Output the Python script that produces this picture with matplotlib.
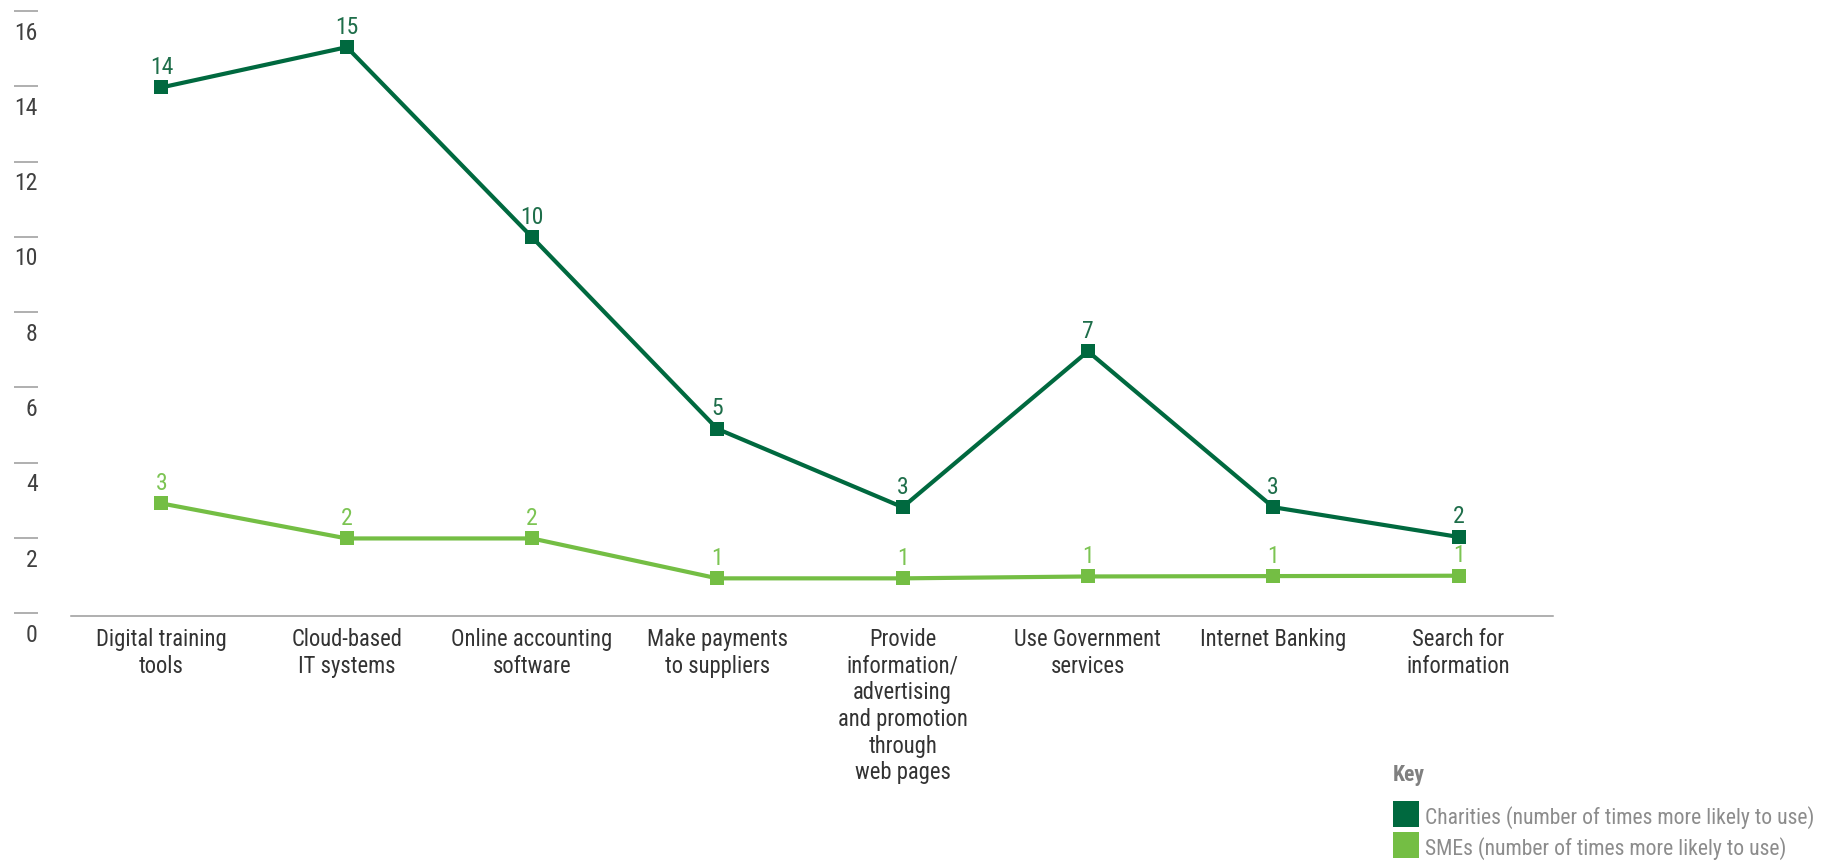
import matplotlib
matplotlib.use('Agg')
import matplotlib.pyplot as plt
from matplotlib import font_manager
from matplotlib.lines import Line2D
from matplotlib.transforms import blended_transform_factory, ScaledTranslation

categorias = ['Digital training\ntools', 'Cloud-based\nIT systems',
              'Online accounting\nsoftware', 'Make payments\nto suppliers',
              'Provide\ninformation/\nadvertising\nand promotion\nthrough\nweb pages',
              'Use Government\nservices', 'Internet Banking',
              'Search for\ninformation']
charities = [13.97, 15.04, 9.99, 4.9, 2.82, 6.96, 2.82, 2.03]
smes = [2.92, 1.99, 1.99, 0.93, 0.93, 0.98, 0.99, 1.0]
charities_rotulos = ['14', '15', '10', '5', '3', '7', '3', '2']
smes_rotulos = ['3', '2', '2', '1', '1', '1', '1', '1']
y_ticks = [0, 2, 4, 6, 8, 10, 12, 14, 16]

cor_charities = '#00693F'
cor_smes = '#74BE44'

# fonte estreita, se houver
instaladas = {f.name for f in font_manager.fontManager.ttflist}
fonte = 'DejaVu Sans'
for nome in ['Liberation Sans Narrow', 'Roboto Condensed', 'DejaVu Sans Condensed',
             'Open Sans Condensed', 'Roboto', 'Lato']:
    if nome in instaladas:
        fonte = nome
        break
plt.rcParams['font.family'] = [fonte, 'DejaVu Sans']

fig = plt.figure(figsize=(18.36, 8.62), dpi=100)

# ajusta o tamanho da fonte pela largura de "Internet Banking" (~146 px)
renderer = fig.canvas.get_renderer()
teste = fig.text(0, 0, 'Internet Banking', fontsize=16)
largura = teste.get_window_extent(renderer).width
teste.remove()
tam = min(16.5, 16 * 146 / largura)

ax = fig.add_axes([70.7 / 1836, 245 / 862, 1482.3 / 1836, 605 / 862])

x = list(range(len(categorias)))
ax.plot(x, charities, color=cor_charities, lw=3.0, marker='s', ms=10.5,
        mew=0, clip_on=False, zorder=3)
ax.plot(x, smes, color=cor_smes, lw=3.0, marker='s', ms=10.5,
        mew=0, clip_on=False, zorder=3)

for xi, v, r in zip(x, charities, charities_rotulos):
    ax.annotate(r, (xi, v), xytext=(0, 10.5), textcoords='offset points',
                ha='center', va='baseline', fontsize=tam * 1.05, color='#1E6E4A')
for xi, v, r in zip(x, smes, smes_rotulos):
    ax.annotate(r, (xi, v), xytext=(0, 10.5), textcoords='offset points',
                ha='center', va='baseline', fontsize=tam * 1.05, color='#7CC453')

ax.set_xlim(-0.49, 7.51)
ax.set_ylim(-0.07, 16)

# eixo x
ax.set_xticks(x)
ax.set_xticklabels(categorias, fontsize=tam, color='#333333', linespacing=1.2,
                   va='top')
ax.tick_params(axis='x', length=0, pad=8)

# eixo y: tracinhos a esquerda, rotulos abaixo deles
ax.spines['left'].set_position(('outward', 23.5))
ax.spines['left'].set_color('none')
ax.set_yticks(y_ticks)
ax.tick_params(axis='y', direction='out', length=17.3, width=1.1,
               color='#9a9a9a', labelleft=False)
trans = blended_transform_factory(ax.transAxes, ax.transData) + \
    ScaledTranslation(0, -0.21, fig.dpi_scale_trans)
for t in y_ticks:
    ax.text(-33 / 1482.3, t, str(t), transform=trans, ha='right', va='center',
            fontsize=tam * 1.05, color='#404040')

ax.spines['top'].set_visible(False)
ax.spines['right'].set_visible(False)
ax.spines['bottom'].set_color('#9a9a9a')
ax.spines['bottom'].set_linewidth(1.1)

# legenda
tam_leg = tam * 0.96
fig.text(1393 / 1836, 1 - 775 / 862, 'Key', ha='left', va='center',
         fontsize=tam_leg, fontweight='bold', color='#808080')
handles = [Line2D([], [], marker='s', ls='none', ms=18.6, mew=0, color=cor_charities),
           Line2D([], [], marker='s', ls='none', ms=18.6, mew=0, color=cor_smes)]
labels = ['Charities (number of times more likely to use)',
          'SMEs (number of times more likely to use)']
px_fonte = tam_leg * 100 / 72
leg = fig.legend(handles, labels, loc='upper left',
                 bbox_to_anchor=(1393 / 1836, 1 - 806 / 862), frameon=False,
                 fontsize=tam_leg, labelcolor='#8c8c8c',
                 handlelength=25.8 / px_fonte, handleheight=25.8 / px_fonte,
                 handletextpad=0.3, labelspacing=7 / px_fonte, borderpad=0,
                 borderaxespad=0)

fig.savefig('out.png', dpi=100)
